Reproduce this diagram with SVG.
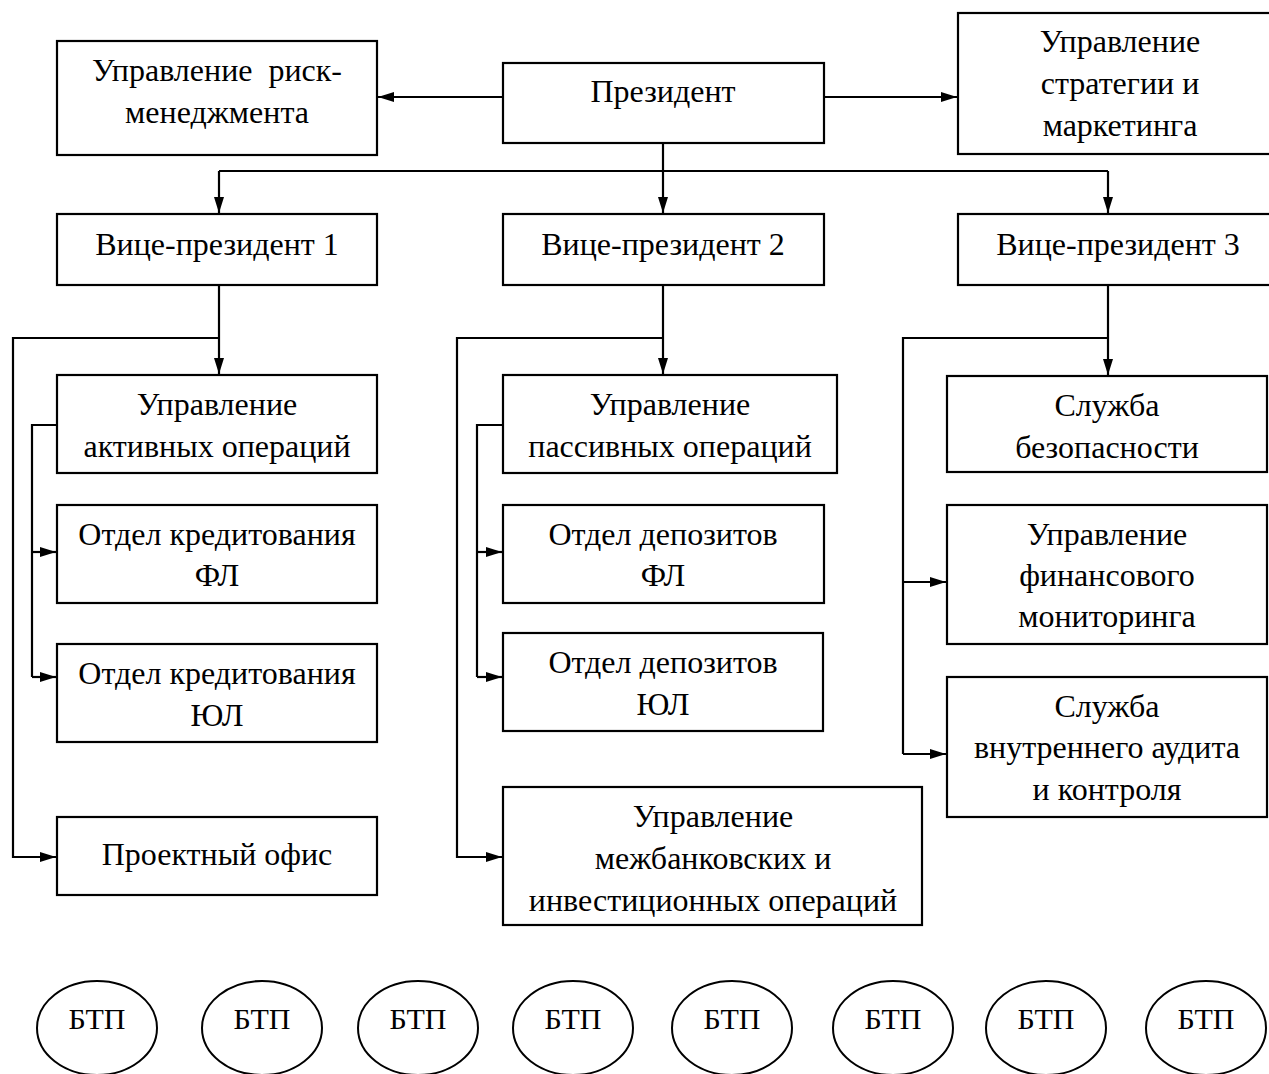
<svg xmlns="http://www.w3.org/2000/svg" width="1269" height="1074" viewBox="0 0 1269 1074">
  <style>
    .box { fill: #fff; stroke: #000; stroke-width: 2.2; }
    .oval { fill: #fff; stroke: #000; stroke-width: 2; }
    .lbl { font-family: "Liberation Serif", "Times New Roman", serif; font-size: 32px; fill: #000; text-anchor: middle; }
    .btp { font-family: "Liberation Serif", "Times New Roman", serif; font-size: 30px; fill: #000; text-anchor: middle; }
    .wire { fill: none; stroke: #000; stroke-width: 2.2; }
    .wire.arr { marker-end: url(#head); }
  </style>
  <defs>
    <marker id="head" markerUnits="userSpaceOnUse" markerWidth="17" markerHeight="12" refX="16" refY="5" orient="auto">
      <path d="M0,0 L16,5 L0,10 Z" fill="#000"/>
    </marker>
  </defs>
  <rect width="1269" height="1074" fill="#fff"/>

  <!-- connectors -->
  <g id="connectors">
    <!-- president to side departments -->
    <path class="wire arr" d="M502,97 H378"/>
    <path class="wire arr" d="M824,97 H957"/>
    <!-- president to vice-presidents -->
    <path class="wire arr" d="M663,143 V213"/>
    <path class="wire" d="M219,171 H1108"/>
    <path class="wire arr" d="M219,171 V213"/>
    <path class="wire arr" d="M1108,171 V213"/>

    <!-- vice-president 1 -->
    <path class="wire arr" d="M219,285 V374"/>
    <path class="wire arr" d="M219,338 H13 V857 H56"/>
    <path class="wire" d="M57,425 H32 V677"/>
    <path class="wire arr" d="M32,552 H56"/>
    <path class="wire arr" d="M32,677 H56"/>

    <!-- vice-president 2 -->
    <path class="wire arr" d="M663,285 V374"/>
    <path class="wire arr" d="M663,338 H457 V857 H502"/>
    <path class="wire" d="M503,425 H477 V677"/>
    <path class="wire arr" d="M477,552 H502"/>
    <path class="wire arr" d="M477,677 H502"/>

    <!-- vice-president 3 -->
    <path class="wire arr" d="M1108,285 V375"/>
    <path class="wire" d="M1108,338 H903 V754"/>
    <path class="wire arr" d="M903,582 H946"/>
    <path class="wire arr" d="M903,754 H946"/>
  </g>

  <!-- top level -->
  <g id="risk-management">
    <rect class="box" x="57" y="41" width="320" height="114"/>
    <text class="lbl" x="217" y="81" xml:space="preserve">Управление  риск-</text>
    <text class="lbl" x="217" y="123">менеджмента</text>
  </g>
  <g id="president">
    <rect class="box" x="503" y="63" width="321" height="80"/>
    <text class="lbl" x="663" y="102">Президент</text>
  </g>
  <g id="strategy-marketing">
    <rect class="box" x="958" y="13" width="324" height="141"/>
    <text class="lbl" x="1120" y="52">Управление</text>
    <text class="lbl" x="1120" y="94">стратегии и</text>
    <text class="lbl" x="1120" y="136">маркетинга</text>
  </g>

  <!-- vice-presidents -->
  <g id="vp1">
    <rect class="box" x="57" y="214" width="320" height="71"/>
    <text class="lbl" x="217" y="255">Вице-президент 1</text>
  </g>
  <g id="vp2">
    <rect class="box" x="503" y="214" width="321" height="71"/>
    <text class="lbl" x="663" y="255">Вице-президент 2</text>
  </g>
  <g id="vp3">
    <rect class="box" x="958" y="214" width="322" height="71"/>
    <text class="lbl" x="1118" y="255">Вице-президент 3</text>
  </g>

  <!-- vice-president 1 units -->
  <g id="active-operations">
    <rect class="box" x="57" y="375" width="320" height="98"/>
    <text class="lbl" x="217" y="415">Управление</text>
    <text class="lbl" x="217" y="457">активных операций</text>
  </g>
  <g id="credit-individuals">
    <rect class="box" x="57" y="505" width="320" height="98"/>
    <text class="lbl" x="217" y="545">Отдел кредитования</text>
    <text class="lbl" x="217" y="586">ФЛ</text>
  </g>
  <g id="credit-legal">
    <rect class="box" x="57" y="644" width="320" height="98"/>
    <text class="lbl" x="217" y="684">Отдел кредитования</text>
    <text class="lbl" x="217" y="726">ЮЛ</text>
  </g>
  <g id="project-office">
    <rect class="box" x="57" y="817" width="320" height="78"/>
    <text class="lbl" x="217" y="865">Проектный офис</text>
  </g>

  <!-- vice-president 2 units -->
  <g id="passive-operations">
    <rect class="box" x="503" y="375" width="334" height="98"/>
    <text class="lbl" x="670" y="415">Управление</text>
    <text class="lbl" x="670" y="457">пассивных операций</text>
  </g>
  <g id="deposits-individuals">
    <rect class="box" x="503" y="505" width="321" height="98"/>
    <text class="lbl" x="663" y="545">Отдел депозитов</text>
    <text class="lbl" x="663" y="586">ФЛ</text>
  </g>
  <g id="deposits-legal">
    <rect class="box" x="503" y="633" width="320" height="98"/>
    <text class="lbl" x="663" y="673">Отдел депозитов</text>
    <text class="lbl" x="663" y="715">ЮЛ</text>
  </g>
  <g id="interbank-investment">
    <rect class="box" x="503" y="787" width="419" height="138"/>
    <text class="lbl" x="713" y="827">Управление</text>
    <text class="lbl" x="713" y="869">межбанковских и</text>
    <text class="lbl" x="713" y="911">инвестиционных операций</text>
  </g>

  <!-- vice-president 3 units -->
  <g id="security">
    <rect class="box" x="947" y="376" width="320" height="96"/>
    <text class="lbl" x="1107" y="416">Служба</text>
    <text class="lbl" x="1107" y="458">безопасности</text>
  </g>
  <g id="financial-monitoring">
    <rect class="box" x="947" y="505" width="320" height="139"/>
    <text class="lbl" x="1107" y="545">Управление</text>
    <text class="lbl" x="1107" y="586">финансового</text>
    <text class="lbl" x="1107" y="627">мониторинга</text>
  </g>
  <g id="internal-audit">
    <rect class="box" x="947" y="677" width="320" height="140"/>
    <text class="lbl" x="1107" y="717">Служба</text>
    <text class="lbl" x="1107" y="758">внутреннего аудита</text>
    <text class="lbl" x="1107" y="800">и контроля</text>
  </g>

  <!-- branch offices -->
  <g id="btp-1"><ellipse class="oval" cx="97" cy="1028" rx="60" ry="47"/><text class="btp" x="97" y="1029">БТП</text></g>
  <g id="btp-2"><ellipse class="oval" cx="262" cy="1028" rx="60" ry="47"/><text class="btp" x="262" y="1029">БТП</text></g>
  <g id="btp-3"><ellipse class="oval" cx="418" cy="1028" rx="60" ry="47"/><text class="btp" x="418" y="1029">БТП</text></g>
  <g id="btp-4"><ellipse class="oval" cx="573" cy="1028" rx="60" ry="47"/><text class="btp" x="573" y="1029">БТП</text></g>
  <g id="btp-5"><ellipse class="oval" cx="732" cy="1028" rx="60" ry="47"/><text class="btp" x="732" y="1029">БТП</text></g>
  <g id="btp-6"><ellipse class="oval" cx="893" cy="1028" rx="60" ry="47"/><text class="btp" x="893" y="1029">БТП</text></g>
  <g id="btp-7"><ellipse class="oval" cx="1046" cy="1028" rx="60" ry="47"/><text class="btp" x="1046" y="1029">БТП</text></g>
  <g id="btp-8"><ellipse class="oval" cx="1206" cy="1028" rx="60" ry="47"/><text class="btp" x="1206" y="1029">БТП</text></g>
</svg>
